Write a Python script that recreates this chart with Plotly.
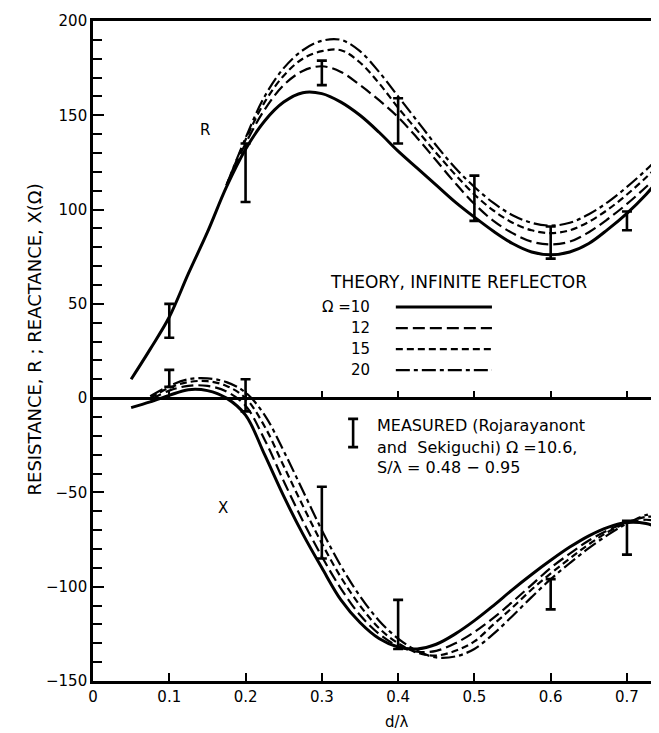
import plotly.graph_objects as go

# ---------------- data ----------------
x_solid = [0.05, 0.075, 0.1, 0.125, 0.15, 0.175, 0.2, 0.225, 0.25, 0.275, 0.3, 0.325, 0.35, 0.375,
           0.4, 0.425, 0.45, 0.475, 0.5, 0.525, 0.55, 0.575, 0.6, 0.625, 0.65, 0.675, 0.7, 0.725, 0.75]
x_dash_R = x_solid[5:]
x_dash_X = x_solid[1:]

R_10 = [10, 26, 43, 66, 88, 112, 132, 147, 157, 162, 161.5, 157, 150, 141,
        131, 122, 113, 104, 96, 88.5, 82, 77.5, 76, 77.5, 82, 89.5, 98, 108, 120]
R_12 = [113, 135, 153, 166, 173.5, 176, 173, 166, 158, 149, 138, 126, 114, 103,
        94, 87.5, 83, 81.5, 83, 88, 95, 103, 112, 122]
R_15 = [113, 137, 157, 171, 180, 184, 184.5, 178, 167, 154, 142, 130, 118.5, 108,
        99.5, 93, 89, 87.5, 89, 93.5, 100, 108, 117, 127]
R_20 = [113, 138, 160, 175, 184.5, 189.5, 190, 184, 173, 160, 147, 134, 122, 112,
        103.5, 97, 93, 91.5, 93, 97.5, 104, 112, 121, 131]

X_10 = [-5, -2, 1.5, 4.5, 4, 0, -9, -30, -52, -72, -90, -107, -119, -127.5,
        -132, -133, -130.5, -125, -118, -110, -101.5, -93.5, -86, -79, -73, -68.5, -66, -66.5, -70]
X_12 = [-1, 4, 6.5, 6.5, 3.5, -4, -22, -44, -65, -84, -101, -115, -125,
        -131.5, -134.5, -134, -130, -124, -116.5, -108, -99, -90, -82.5, -75.5, -70, -66, -64.5, -66]
X_15 = [0, 5.5, 8.5, 9, 6.5, 0, -15, -36, -57, -77, -95, -110, -122,
        -130, -135, -136.5, -134, -129, -120, -111, -101.5, -93, -85, -77.5, -71, -66, -63, -63]
X_20 = [1, 6.5, 10, 10.5, 8.5, 3, -9, -28, -49, -70, -89, -105, -118,
        -127.5, -134, -137.5, -137, -133, -125, -115.5, -105.5, -96, -87.5, -79.5, -72.5, -66.5, -62, -60.5]

meas_R_x = [0.1, 0.2, 0.3, 0.4, 0.5, 0.6, 0.7]
meas_R_low = [32, 104, 166, 135, 94, 74, 89]
meas_R_high = [50, 135, 179, 159, 118, 91, 99]

meas_X_x = [0.1, 0.2, 0.3, 0.4, 0.6, 0.7]
meas_X_low = [6, -7, -85, -133, -112, -83]
meas_X_high = [15, 10, -47, -107, -96, -65]

omega_labels = ["\u03a9 =10", "12", "15", "20"]
x_ticks = [0, 0.1, 0.2, 0.3, 0.4, 0.5, 0.6, 0.7]
y_ticks = [-150, -100, -50, 0, 50, 100, 150, 200]

# ---------------- styles ----------------
FONT = "DejaVu Sans"
styles = [dict(width=3.0, dash="solid"),
          dict(width=2.2, dash="12px,5px"),
          dict(width=2.2, dash="7px,4px"),
          dict(width=2.2, dash="14px,4px,4px,4px")]

fig = go.Figure()

def add_curve(x, y, st):
    fig.add_trace(go.Scatter(x=x, y=y, mode="lines", showlegend=False,
                             line=dict(color="black", width=st["width"], dash=st["dash"],
                                       shape="spline", smoothing=1.0)))

add_curve(x_solid, R_10, styles[0])
add_curve(x_dash_R, R_12, styles[1])
add_curve(x_dash_R, R_15, styles[2])
add_curve(x_dash_R, R_20, styles[3])
add_curve(x_solid, X_10, styles[0])
add_curve(x_dash_X, X_12, styles[1])
add_curve(x_dash_X, X_15, styles[2])
add_curve(x_dash_X, X_20, styles[3])

def add_bars(xs, lows, highs):
    mids = [(a + b) / 2 for a, b in zip(lows, highs)]
    errs = [(b - a) / 2 for a, b in zip(lows, highs)]
    fig.add_trace(go.Scatter(x=xs, y=mids, mode="markers", showlegend=False,
                             marker=dict(size=1, color="rgba(0,0,0,0)"),
                             error_y=dict(type="data", array=errs, visible=True,
                                          color="black", thickness=2.6, width=5)))

add_bars(meas_R_x, meas_R_low, meas_R_high)
add_bars(meas_X_x, meas_X_low, meas_X_high)
# legend symbol for measured data
add_bars([0.341], [-26], [-11])

# dummy trace for the zero-line axis
fig.add_trace(go.Scatter(x=[None], y=[None], xaxis="x2", yaxis="y", showlegend=False))

# legend samples (theory)
leg_y = [48.3, 37.1, 26.0, 14.9]
for st, yy, lab in zip(styles, leg_y, omega_labels):
    fig.add_shape(type="line", xref="x", yref="y", x0=0.397, x1=0.523, y0=yy, y1=yy,
                  line=dict(color="black", width=st["width"], dash=st["dash"]))
    fig.add_annotation(x=0.366, y=yy, xref="x", yref="y", text=lab, showarrow=False,
                       xanchor="right", yanchor="middle", font=dict(family=FONT, size=15, color="black"))

fig.add_annotation(x=0.650, y=61.5, xref="x", yref="y", text="THEORY, INFINITE REFLECTOR",
                   showarrow=False, xanchor="right", yanchor="middle",
                   font=dict(family=FONT, size=17, color="black"))

meas_lines = ["MEASURED (Rojarayanont", "and  Sekiguchi) \u03a9 =10.6,", "S/\u03bb = 0.48 \u2212 0.95"]
for txt, yy in zip(meas_lines, [-14.3, -26.0, -36.6]):
    fig.add_annotation(x=0.370, y=yy, xref="x", yref="y", text=txt, showarrow=False,
                       xanchor="left", yanchor="middle",
                       font=dict(family=FONT, size=16, color="black"))

fig.add_annotation(x=0.147, y=142, xref="x", yref="y", text="R", showarrow=False,
                   font=dict(family=FONT, size=15, color="black"))
fig.add_annotation(x=0.170, y=-58, xref="x", yref="y", text="X", showarrow=False,
                   font=dict(family=FONT, size=15, color="black"))

# axis titles (positions relative to the plot area: 566 x 660 px)
fig.add_annotation(x=(22 - 93) / 566, y=(681 - 340) / 660, xref="paper", yref="paper",
                   text="RESISTANCE, R ; REACTANCE, X(\u03a9)", textangle=-90, showarrow=False,
                   font=dict(family=FONT, size=18, color="black"))
fig.add_annotation(x=(397 - 93) / 566, y=(681 - 722) / 660, xref="paper", yref="paper",
                   text="d/\u03bb", showarrow=False, yanchor="middle",
                   font=dict(family=FONT, size=15, color="black"))

# the page body adds an 8px offset, so the figure is 8px smaller and margins compensate
fig.update_layout(
    width=651, height=725,
    margin=dict(l=85, r=0, t=13, b=52, autoexpand=False),
    paper_bgcolor="white", plot_bgcolor="white",
    showlegend=False,
    xaxis=dict(range=[0, 0.742], tickvals=x_ticks, ticktext=[str(v) for v in x_ticks],
               ticks="inside", ticklen=8, tickwidth=1.6, tickcolor="black",
               showline=True, linewidth=2.6, linecolor="black", mirror=True,
               showgrid=False, zeroline=False, automargin=False,
               tickfont=dict(family=FONT, size=15, color="black")),
    xaxis2=dict(range=[0, 0.742], overlaying="x", anchor="free", position=150 / 350,
                tickvals=x_ticks, ticks="inside", ticklen=6, tickwidth=1.6, tickcolor="black",
                showline=True, linewidth=2.6, linecolor="black", showticklabels=False,
                showgrid=False, zeroline=False, side="bottom", automargin=False),
    yaxis=dict(range=[-150, 200], tickvals=y_ticks, ticks="inside", ticklen=11, tickwidth=1.6,
               tickcolor="black", showline=True, linewidth=2.6, linecolor="black",
               showgrid=False, zeroline=False, automargin=False,
               minor=dict(dtick=10, ticks="inside", ticklen=9, tickwidth=1.6, tickcolor="black"),
               tickfont=dict(family=FONT, size=15, color="black")),
)

fig.write_html("out.html")
